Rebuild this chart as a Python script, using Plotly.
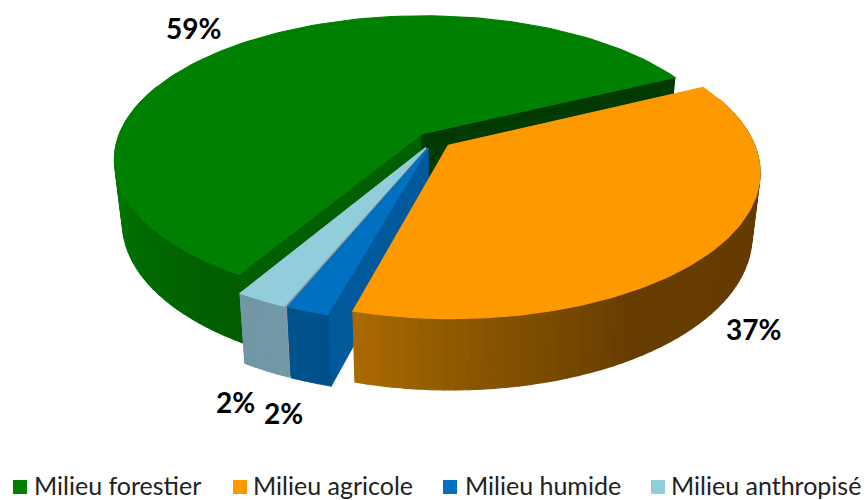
import math
import plotly.graph_objects as go

# ---- data ----
categories = ["Milieu forestier", "Milieu agricole", "Milieu humide", "Milieu anthropisé"]
shares = [59.3, 36.5, 1.9, 2.3]
labels = ["59%", "37%", "2%", "2%"]

# ---- styles ----
top_colors = ["#008000", "#FF9900", "#0070C0", "#92CDDC"]
legend_colors = ["#008000", "#FF9900", "#0070C0", "#92CDDC"]
# outer wall shading: (angle in degrees, rgb)
wall_stops = [
    [(120, (0, 92, 0)), (150, (0, 108, 0)), (185, (0, 122, 0))],
    [(-27, (100, 58, 0)), (60, (103, 60, 0)), (85, (135, 85, 0)), (106, (172, 106, 0))],
    [(104, (0, 80, 138)), (116, (0, 84, 142))],
    [(110, (116, 152, 166)), (124, (112, 150, 165))],
]
side_colors = [("#005F00", "#003A00"), (None, None), ("#00599A", "#00599A"), ("#8A9AA0", "#8A9AA0")]
draw_order = [0, 3, 2, 1]
legend_swatch_px = [20, 240, 450, 658]
legend_text_px = [32, 251, 463, 669]
LEGEND_Y = 485

# ---- projection ----
START = -26.0
CX, CY = 434.0, 140.0
R, RY = 304.5, 140.7
PERSP = 0.1753
H = 62.0
SHRINK = 0.025
EXPLODE = 0.06
label_radial = [1.375, 1.207, 1.245, 1.215]
label_z = [0.16, 0.92, 0.878, 1.01]


def project(u, v, z=0.0):
    s = 1.0 / (1.0 - PERSP * v)
    sc = s * (1.0 - SHRINK * z)
    return CX + R * u * sc, CY + RY * v * sc + H * z * s


def wall_color(stops, a):
    if a <= stops[0][0]:
        c = stops[0][1]
    elif a >= stops[-1][0]:
        c = stops[-1][1]
    else:
        c = stops[-1][1]
        for (a0, c0), (a1, c1) in zip(stops, stops[1:]):
            if a0 <= a <= a1:
                t = (a - a0) / (a1 - a0)
                c = tuple(c0[i] + (c1[i] - c0[i]) * t for i in range(3))
                break
    return "rgb(%d,%d,%d)" % tuple(round(x) for x in c)


def poly(fig, pts, color):
    xs = [p[0] for p in pts] + [pts[0][0]]
    ys = [p[1] for p in pts] + [pts[0][1]]
    fig.add_trace(go.Scatter(
        x=xs, y=ys, mode="lines", fill="toself", fillcolor=color,
        line=dict(color=color, width=1.2), hoverinfo="skip", showlegend=False,
    ))


# slice angular limits from the shares
limits = []
a = START
for share in shares[1:] + shares[:1]:
    limits.append((a, a + share * 3.6))
    a += share * 3.6
limits = limits[-1:] + limits[:-1]  # green first

fig = go.Figure()

for idx in draw_order:
    a0, a1 = limits[idx]
    mid = math.radians((a0 + a1) / 2)
    ox, oy = EXPLODE * math.cos(mid), EXPLODE * math.sin(mid)

    def rim(a, z=0.0):
        r = math.radians(a)
        return project(ox + math.cos(r), oy + math.sin(r), z)

    apex_t, apex_b = project(ox, oy, 0), project(ox, oy, 1)
    # radial faces
    if side_colors[idx][0]:
        poly(fig, [apex_t, rim(a0), rim(a0, 1), apex_b], side_colors[idx][0])
        poly(fig, [apex_t, rim(a1), rim(a1, 1), apex_b], side_colors[idx][1])
    # outer wall, in shaded bands
    n = max(2, int((a1 - a0) / 2))
    for k in range(n):
        b0 = a0 + (a1 - a0) * k / n
        b1 = a0 + (a1 - a0) * (k + 1) / n
        if math.sin(math.radians((b0 + b1) / 2)) < -0.35:
            continue
        steps = [b0 + (b1 - b0) * j / 3 for j in range(4)]
        pts = [rim(x) for x in steps] + [rim(x, 1) for x in reversed(steps)]
        poly(fig, pts, wall_color(wall_stops[idx], ((b0 + b1) / 2 + 90) % 360 - 90))
    # top face
    steps = [a0 + (a1 - a0) * j / 120 for j in range(121)]
    poly(fig, [apex_t] + [rim(x) for x in steps], top_colors[idx])

# value labels
for idx, text in enumerate(labels):
    a0, a1 = limits[idx]
    mid = math.radians((a0 + a1) / 2)
    x, y = project(label_radial[idx] * math.cos(mid), label_radial[idx] * math.sin(mid), label_z[idx])
    fig.add_annotation(x=x, y=y, text="<b>%s</b>" % text, showarrow=False,
                       font=dict(family="Lato", size=28, color="#000000"))

# legend row at the bottom
fig.add_trace(go.Scatter(
    x=legend_swatch_px, y=[LEGEND_Y + 2] * len(categories), mode="markers", hoverinfo="skip", showlegend=False,
    marker=dict(symbol="square", size=14, color=legend_colors),
))
for name, x in zip(categories, legend_text_px):
    fig.add_annotation(x=x, y=LEGEND_Y, text=name, showarrow=False, xanchor="left", yanchor="middle",
                       font=dict(family="Lato", size=25, color="#222222"))

fig.update_layout(
    width=865, height=500, margin=dict(l=0, r=0, t=0, b=0),
    paper_bgcolor="white", plot_bgcolor="white", showlegend=False,
    xaxis=dict(range=[0, 865], visible=False, fixedrange=True),
    yaxis=dict(range=[500, 0], visible=False, fixedrange=True),
)
fig.write_html("out.html", post_script="document.body.style.margin='0';",
               config={"displayModeBar": False})
